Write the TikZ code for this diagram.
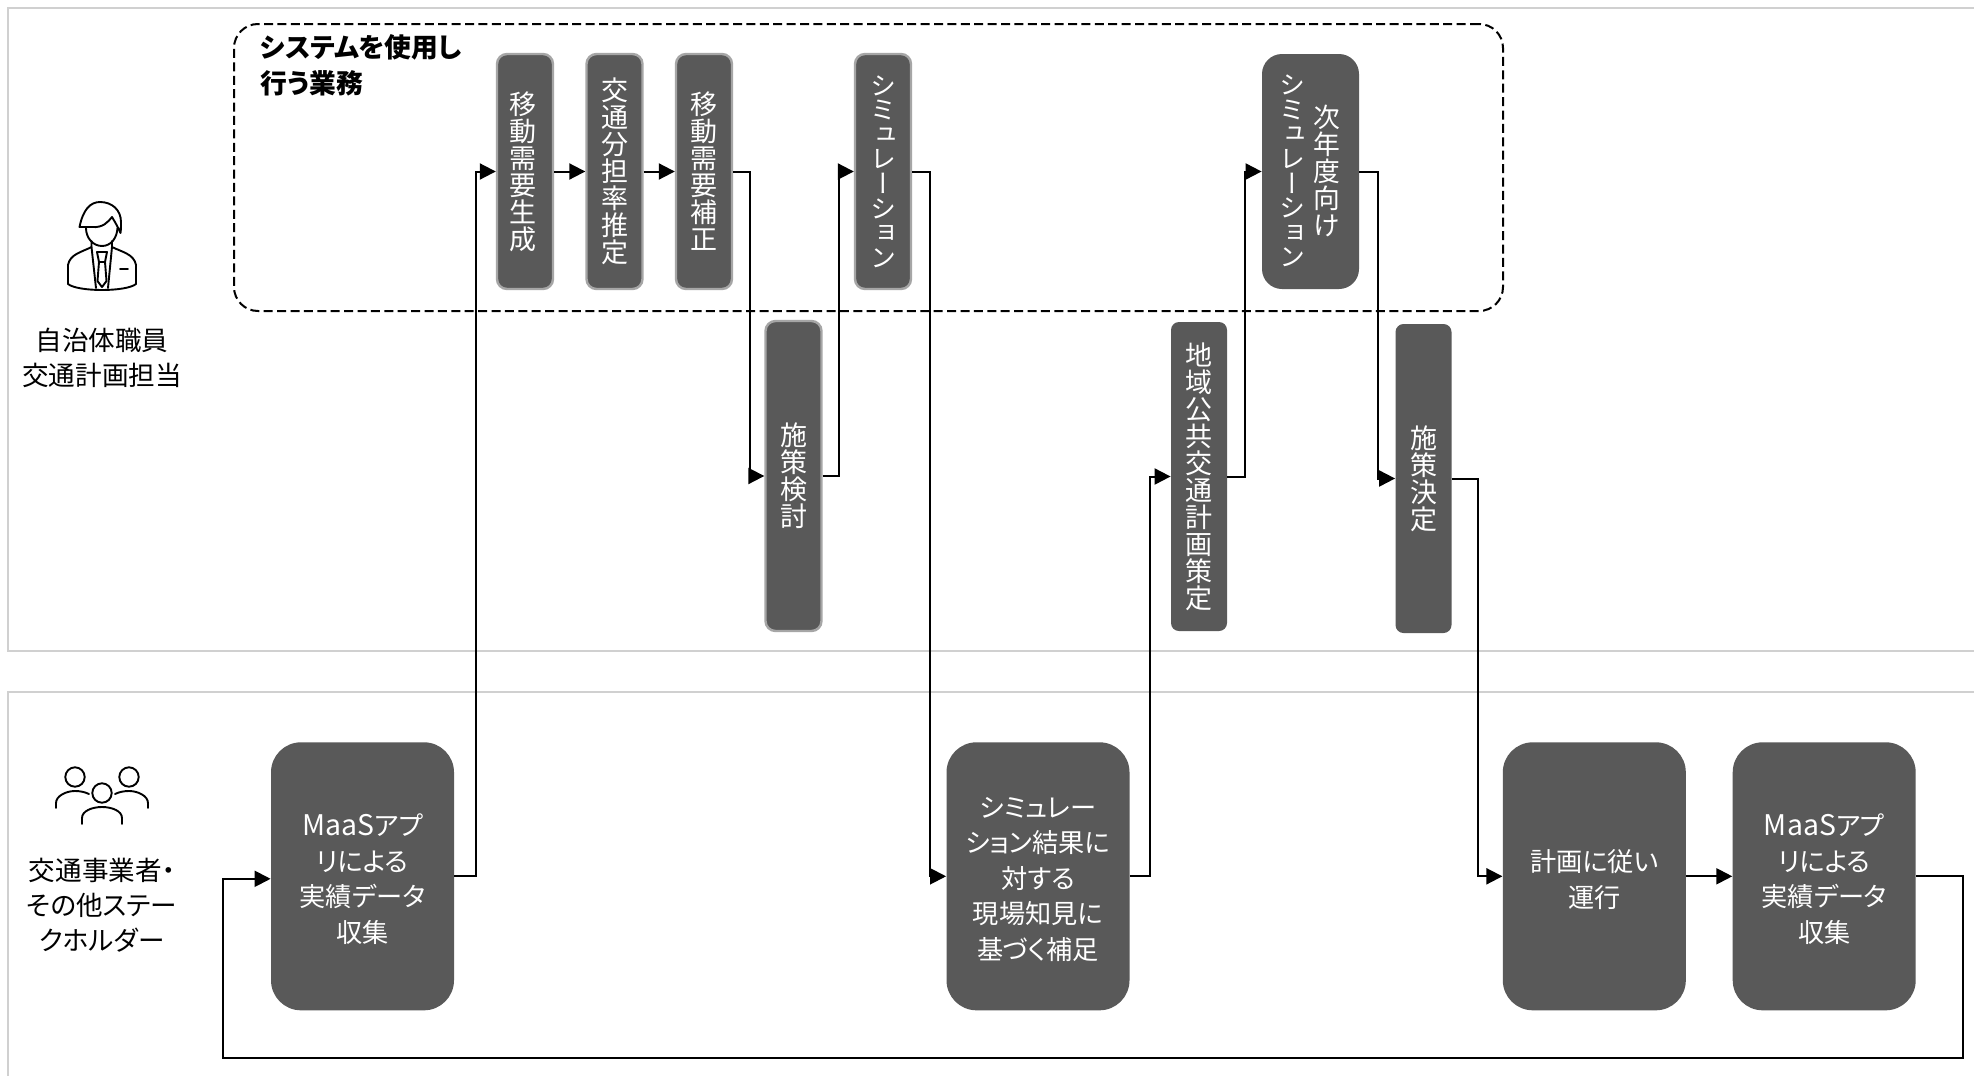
\documentclass[tikz,border=0pt]{standalone}
\usepackage{fontspec}
\usetikzlibrary{arrows.meta,calc}
\setmainfont[RawFeature=+palt]{Noto Sans CJK JP}
\newfontfamily\vjp[RawFeature=+vert]{Noto Sans CJK JP}
\newcommand{\maas}{{\fontsize{14.2}{17.8}\selectfont MaaS}}
\definecolor{boxfill}{HTML}{595959}
\definecolor{boxedge}{HTML}{A6A6A6}
\definecolor{panel}{HTML}{D0D0D0}
\tikzset{
  panelline/.style={draw=panel,line width=1pt},
  tallbox/.style={fill=boxfill,rounded corners=5pt,inner sep=0pt,text=white,align=center,minimum width=28pt,minimum height=117.5pt,font=\vjp\fontsize{13.5}{13.5}\selectfont},
  kanastack/.style={inner sep=0pt,text=white,align=center,font=\vjp\fontsize{13}{12.3}\selectfont},
  kanjistack/.style={inner sep=0pt,text=white,align=center,font=\vjp\fontsize{13.4}{13.4}\selectfont},
  edged/.style={draw=boxedge,line width=1.2pt},
  bigbox/.style={fill=boxfill,rounded corners=15pt,inner sep=0pt,minimum width=91.5pt,minimum height=134pt},
  bigtext/.style={inner sep=0pt,text=white,align=center,font=\fontsize{13.1}{17.8}\selectfont},
  lane/.style={inner sep=0pt,align=center,text=black,font=\fontsize{13.3}{17.6}\selectfont},
  conn/.style={draw=black,line width=1pt,-{Triangle[length=8pt,width=8pt]}},
  icon/.style={draw=black,line width=0.95pt,line join=round,line cap=round},
}
\begin{document}
\begin{tikzpicture}[x=0.5pt,y=-0.5pt]
\useasboundingbox (0,0) rectangle (1974,1076);
\fill[white] (0,0) rectangle (1974,1076);
% panels
\draw[panelline] (1974,8) -- (8,8) -- (8,651) -- (1974,651);
\draw[panelline] (1974,692) -- (8,692) -- (8,1076);
% dashed system frame
\node[draw=black,dash pattern=on 4.5pt off 2.2pt,line width=1pt,rounded corners=12pt,minimum width=634.5pt,minimum height=143.5pt,inner sep=0pt] (frame) at (868.5,167.5) {};
\node[anchor=west,inner sep=0pt,align=left,font=\fontsize{13.4}{18.2}\selectfont\bfseries] (frametitle) at (260,65.5) {システムを使用し\\行う業務};
% lane labels
\node[lane] (lane1) at (102,358) {自治体職員\\交通計画担当};
\node[lane] (lane2) at (102,905) {交通事業者・\\その他ステー\\クホルダー};
% tall boxes
\node[tallbox,edged] (gen) at (525,171.5) {\hspace*{-2pt}移\\\hspace*{-2pt}動\\\hspace*{-2pt}需\\\hspace*{-2pt}要\\\hspace*{-2pt}生\\\hspace*{-2pt}成};
\node[tallbox,edged] (split) at (614.5,171.5) {交\\通\\分\\担\\率\\推\\定};
\node[tallbox,edged] (fix) at (704,171.5) {移\\動\\需\\要\\補\\正};
\node[tallbox,edged,font=\vjp\fontsize{13}{12.3}\selectfont] (sim) at (883,171.5) {シ\\ミ\\ュ\\レ\\ー\\シ\\ョ\\ン};
\node[tallbox,minimum width=48.5pt,rounded corners=10pt] (next) at (1310.5,171.5) {};
\node[kanastack] (nexta) at (1292.5,171) {シ\\ミ\\ュ\\レ\\ー\\シ\\ョ\\ン};
\node[kanjistack] (nextb) at (1327,171) {次\\年\\度\\向\\け};
\node[tallbox,edged,minimum height=155pt] (plan) at (793.5,476) {施\\策\\検\\討};
\node[tallbox,minimum height=154.5pt,rounded corners=4pt] (local) at (1199,476.5) {地\\域\\公\\共\\交\\通\\計\\画\\策\\定};
\node[tallbox,minimum height=154.5pt,rounded corners=4pt] (decide) at (1423.5,478.5) {施\\策\\決\\定};
% big boxes
\node[bigbox] (maas1) at (362.5,876.3) {};
\node[bigtext] (maas1t) at (362.5,879.3) {\maas アプ\\リによる\\実績データ\\収集};
\node[bigbox] (site) at (1038,876.3) {};
\node[bigtext] (sitet) at (1038,879.3) {シミュレー\\ション結果に\\対する\\現場知見に\\基づく補足};
\node[bigbox] (run) at (1594.3,876.3) {};
\node[bigtext] (runt) at (1594.3,879.3) {計画に従い\\運行};
\node[bigbox] (maas2) at (1824.2,876.3) {};
\node[bigtext] (maas2t) at (1824.2,879.3) {\maas アプ\\リによる\\実績データ\\収集};
% connectors
\draw[conn] (maas1.east) -- ++(21.5,0) |- (gen.west);
\draw[conn] (gen.east) -- (split.west);
\draw[conn] (split.east) -- (fix.west);
\draw[conn] (fix.east) -- ++(17,0) |- (plan.west);
\draw[conn] (plan.east) -- ++(16,0) |- (sim.west);
\draw[conn] (sim.east) -- ++(18,0) |- (site.west);
\draw[conn] (site.east) -- ++(20,0) |- (local.west);
\draw[conn] (local.east) -- ++(17.5,0) |- (next.west);
\draw[conn] (next.east) -- ++(19,0) |- (decide.west);
\draw[conn] (decide.east) -- ++(26,0) |- (run.west);
\draw[conn] (run.east) -- (maas2.west);
\coordinate (loopr) at (1963,1058);
\coordinate (loopl) at (223,1058);
\draw[conn] (maas2.east) -| (loopr) -- (loopl) |- ($(maas1.west)+(0,2.5)$);
% person icon
\draw[icon] (79.5,227) .. controls (83,210) and (90,202) .. (100,202) .. controls (112,202) and (121,210) .. (121,222) .. controls (121,226) and (121,230) .. (120.5,233) .. controls (118,227) and (115,222) .. (112,217) .. controls (108,222) and (103,228) .. (92,227) -- cycle;
\draw[icon] (86,228) .. controls (86,238) and (93,246) .. (102,246) .. controls (111,246) and (117,238) .. (117.5,228);
\draw[icon] (91.5,241) -- (91.5,247) .. controls (82,252) and (70,254) .. (68,265) -- (68,284) .. controls (78,292) and (126,292) .. (136,284) -- (136,265) .. controls (134,254) and (122,252) .. (112,247) -- (112,241);
\draw[icon] (91.5,247) -- (96,288);
\draw[icon] (112,247) -- (108,288);
\draw[icon] (97,252) -- (107,252) -- (105,262) -- (99,262) -- cycle;
\draw[icon] (99,262) -- (97.5,281) -- (102,287) -- (106.5,281) -- (105,262);
\draw[icon] (120,269) -- (128,269);
% people icon
\draw[icon] (75,777) circle[radius=9.7];
\draw[icon] (129,777) circle[radius=9.7];
\draw[icon] (102,793) circle[radius=9.7];
\draw[icon] (56,808) -- (56,803) .. controls (56,796) and (66,791) .. (75,791) .. controls (80,791) and (85,792) .. (89,794);
\draw[icon] (148,808) -- (148,803) .. controls (148,796) and (138,791) .. (129,791) .. controls (124,791) and (119,792) .. (115,794);
\draw[icon] (82,824) -- (82,818) .. controls (82,811) and (92,807) .. (102,807) .. controls (112,807) and (122,811) .. (122,818) -- (122,824);
\end{tikzpicture}
\end{document}
